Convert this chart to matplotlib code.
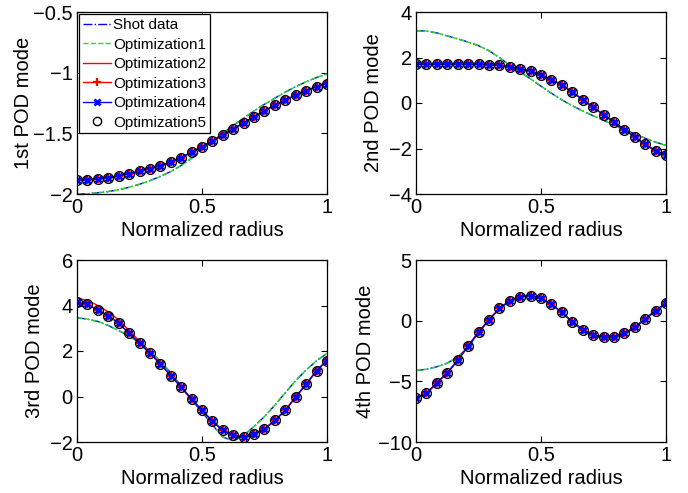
import numpy as np
import matplotlib
matplotlib.use("Agg")
import matplotlib.pyplot as plt

plt.rcParams["font.family"] = ["Liberation Sans", "DejaVu Sans"]
plt.rcParams["axes.unicode_minus"] = True

# normalized radius, 25 stations
radius = np.linspace(0.0, 1.0, 25)

# --- mode 1 ---
mode1_shot = [-2.0, -1.998, -1.99, -1.98, -1.965, -1.945, -1.92, -1.89, -1.855, -1.815,
              -1.765, -1.705, -1.635, -1.565, -1.50, -1.435, -1.375, -1.315, -1.26, -1.21,
              -1.16, -1.115, -1.075, -1.04, -1.01]
mode1_opt = [-1.885, -1.884, -1.877, -1.866, -1.85, -1.833, -1.814, -1.79, -1.768, -1.738,
             -1.70, -1.656, -1.61, -1.563, -1.516, -1.464, -1.413, -1.363, -1.314, -1.268,
             -1.224, -1.186, -1.148, -1.115, -1.09]

# --- mode 2 ---
mode2_shot = [3.18, 3.16, 3.08, 2.95, 2.82, 2.68, 2.52, 2.30, 2.0, 1.66,
              1.36, 1.06, 0.74, 0.43, 0.14, -0.12, -0.35, -0.56, -0.76, -0.96,
              -1.16, -1.36, -1.55, -1.72, -1.86]
mode2_opt = [1.70, 1.70, 1.70, 1.70, 1.70, 1.70, 1.70, 1.69, 1.65, 1.58,
             1.50, 1.39, 1.24, 1.02, 0.80, 0.48, 0.15, -0.19, -0.51, -0.83,
             -1.17, -1.49, -1.82, -2.10, -2.29]

# --- mode 3 ---
mode3_shot = [3.46, 3.40, 3.30, 3.12, 2.90, 2.66, 2.37, 2.0, 1.55, 1.05,
              0.45, -0.15, -0.68, -1.25, -1.78, -1.95, -1.70, -1.32, -0.88, -0.38,
              0.17, 0.70, 1.17, 1.57, 1.9]
mode3_opt = [4.14, 4.05, 3.80, 3.55, 3.22, 2.78, 2.34, 1.90, 1.43, 0.92,
             0.41, -0.12, -0.61, -1.08, -1.49, -1.71, -1.80, -1.65, -1.43, -1.05,
             -0.61, -0.01, 0.54, 1.14, 1.58]
mode3_opt2 = [4.32, 4.22, 4.0, 3.72, 3.37, 2.90, 2.43, 1.95, 1.45, 0.92,
              0.41, -0.12, -0.61, -1.08, -1.49, -1.71, -1.80, -1.65, -1.43, -1.05,
              -0.61, -0.01, 0.54, 1.14, 1.58]

# --- mode 4 ---
mode4_shot = [-4.12, -4.0, -3.8, -3.5, -3.0, -2.2, -1.0, 0.05, 1.0, 1.62,
              1.98, 2.02, 1.8, 1.33, 0.65, -0.12, -0.8, -1.25, -1.45, -1.45,
              -1.12, -0.58, 0.12, 0.82, 1.45]
mode4_opt = [-6.40, -6.0, -5.12, -4.31, -3.27, -2.10, -0.95, 0.05, 1.01, 1.63,
             1.99, 2.04, 1.83, 1.36, 0.68, -0.08, -0.74, -1.17, -1.36, -1.36,
             -1.04, -0.54, 0.14, 0.82, 1.44]

ylabels = ["1st POD mode", "2nd POD mode", "3rd POD mode", "4th POD mode"]
ylims = [(-2, -0.5), (-4, 4), (-2, 6), (-10, 5)]
yticks = [[-2, -1.5, -1, -0.5], [-4, -2, 0, 2, 4], [-2, 0, 2, 4, 6], [-10, -5, 0, 5]]
ytick_labels = [["−2", "−1.5", "−1", "−0.5"], ["−4", "−2", "0", "2", "4"],
                ["−2", "0", "2", "4", "6"], ["−10", "−5", "0", "5"]]
ylabel_pads = [0.5, 4, 4, 2]

shots = [mode1_shot, mode2_shot, mode3_shot, mode4_shot]
opts = [mode1_opt, mode2_opt, mode3_opt, mode4_opt]
opt2s = [mode1_opt, mode2_opt, mode3_opt2, mode4_opt]

fig = plt.figure(figsize=(6.88, 4.93), dpi=100)
W, H = 688.0, 493.0
boxes = [(77, 12, 250, 182), (416, 12, 250, 182), (77, 260, 250, 182), (416, 260, 250, 182)]

fs = 14.5
for i, (bx, by, bw, bh) in enumerate(boxes):
    ax = fig.add_axes([bx / W, 1 - (by + bh) / H, bw / W, bh / H])
    ax.plot(radius, shots[i], color="#0000ff", ls="-.", lw=1.0, label="Shot data")
    ax.plot(radius, shots[i], color="#22dd22", ls="--", lw=1.0, label="Optimization1")
    ax.plot(radius, opt2s[i], color="#ff0000", ls="-", lw=1.0, label="Optimization2")
    ax.plot(radius, opts[i], color="#ff0000", ls="-", lw=1.0, marker="+",
            ms=6, mew=1.6, label="Optimization3")
    ax.plot(radius, opts[i], color="#0000ff", ls="-", lw=1.0, marker="x",
            ms=4.5, mew=2.0, label="Optimization4")
    ax.plot(radius, opts[i], color="black", ls="none", marker="o", ms=7,
            mfc="none", mew=1.0, label="Optimization5")

    ax.set_xlim(0, 1)
    ax.set_ylim(*ylims[i])
    ax.set_xticks([0, 0.5, 1])
    ax.set_xticklabels(["0", "0.5", "1"])
    ax.set_yticks(yticks[i])
    ax.set_yticklabels(ytick_labels[i])
    ax.tick_params(direction="in", top=True, right=True, labelsize=fs,
                   length=4, width=0.8, pad=3)
    for s in ax.spines.values():
        s.set_linewidth(0.9)
    ax.set_xlabel("Normalized radius", fontsize=fs, labelpad=3)
    ax.set_ylabel(ylabels[i], fontsize=fs, labelpad=ylabel_pads[i])

    if i == 0:
        leg = ax.legend(loc="upper left", fontsize=11, frameon=True, fancybox=False,
                        edgecolor="black", framealpha=1, borderpad=0.25,
                        labelspacing=0.36, handlelength=1.8, handletextpad=0.15,
                        borderaxespad=0.15, markerscale=0.85)
        leg.get_frame().set_linewidth(0.9)

fig.savefig("out.png", dpi=100)
